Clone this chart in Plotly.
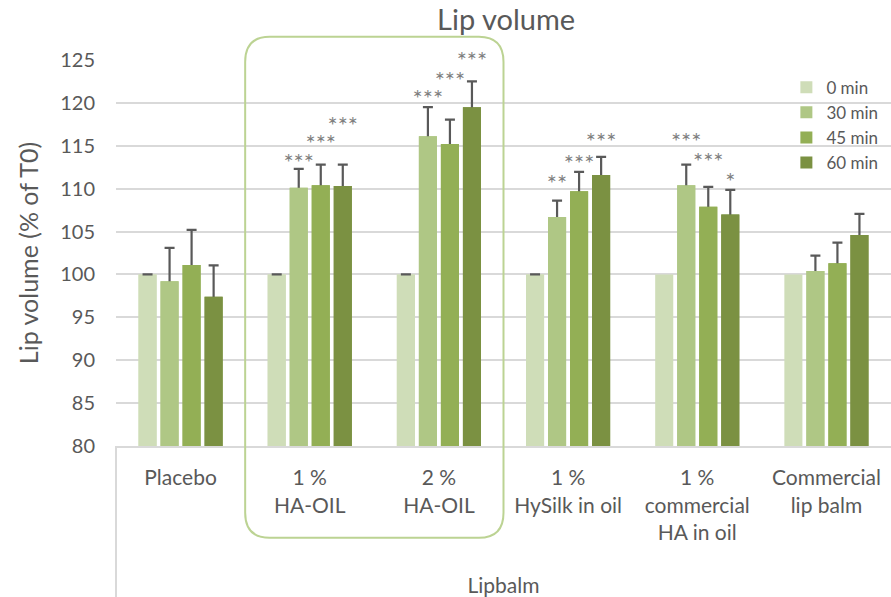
import plotly.graph_objects as go

FONT = "Lato, 'Open Sans', sans-serif"
TXT = "#595959"
GRID = "#D9D9D9"

categories = ["Placebo", "1 %<br>HA-OIL", "2 %<br>HA-OIL", "1 %<br>HySilk in oil",
              "1 %<br>commercial<br>HA in oil", "Commercial<br>lip balm"]
series = ["0 min", "30 min", "45 min", "60 min"]
colors = ["#CFDDB8", "#AFC785", "#93AF55", "#7B9142"]

v0 = [100, 100, 100, 100, 100, 100]
v30 = [99.2, 110.1, 116.1, 106.7, 110.4, 100.4]
v45 = [101.1, 110.4, 115.2, 109.7, 107.9, 101.3]
v60 = [97.4, 110.3, 119.5, 111.6, 107.0, 104.6]

# upper error (SD) of each bar
e30 = [3.9, 2.2, 3.4, 1.9, 2.4, 1.8]
e45 = [4.1, 2.4, 2.85, 2.25, 2.3, 2.4]
e60 = [3.65, 2.5, 3.0, 2.1, 2.85, 2.45]
e0_cats = categories[:4]      # 0 min bars that show a zero-length cap

# significance marks and the height they sit at
s30 = ["", "***", "***", "**", "***", ""]
s45 = ["", "***", "***", "***", "***", ""]
s60 = ["", "***", "***", "***", "*", ""]
h30 = [None, 112.8, 120.2, 110.3, 115.2, None]
h45 = [None, 115.0, 122.3, 112.65, 112.9, None]
h60 = [None, 117.1, 124.7, 115.2, 110.5, None]

values = [v0, v30, v45, v60]
errors = [None, e30, e45, e60]
stars = [[""] * 6, s30, s45, s60]
heights = [v0, h30, h45, h60]

ERR = dict(type="data", symmetric=True, color=TXT, thickness=2.2, width=5)

fig = go.Figure()
for i, name in enumerate(series):
    grp = str(i)
    if errors[i] is not None:
        # bar carrying the error bar, the legend bar covers its lower half
        fig.add_trace(go.Bar(
            x=categories, y=values[i], offsetgroup=grp, showlegend=False,
            marker=dict(color=colors[i], line=dict(width=0)),
            error_y=dict(array=errors[i], **ERR), hoverinfo="skip",
        ))
    fig.add_trace(go.Bar(
        x=categories, y=values[i], name=name, offsetgroup=grp,
        marker=dict(color=colors[i], line=dict(width=0)),
    ))
    if errors[i] is None:
        fig.add_trace(go.Bar(
            x=e0_cats, y=values[i][:4], offsetgroup=grp, showlegend=False,
            marker=dict(color=colors[i], line=dict(width=0)),
            error_y=dict(array=[0] * 4, **ERR), hoverinfo="skip",
        ))

for i in range(4):
    fig.add_trace(go.Scatter(
        x=categories, y=heights[i], text=stars[i], mode="text",
        offsetgroup=str(i), orientation="v", showlegend=False,
        textposition="middle center", cliponaxis=False,
        textfont=dict(family=FONT, size=24, color="#7F7F7F"),
        hoverinfo="skip",
    ))

fig.update_layout(
    width=891, height=597,
    margin=dict(l=116, r=0, t=60, b=151),
    plot_bgcolor="white", paper_bgcolor="white",
    font=dict(family=FONT, size=20, color=TXT),
    barmode="group", bargap=0.318, bargroupgap=0.18,
    scattermode="group", scattergap=0.318,
    title=dict(text="Lip volume", x=0.568, xanchor="center", y=0.966, yanchor="middle",
               font=dict(family=FONT, size=29, color=TXT)),
    legend=dict(x=0.865, y=0.975, xanchor="left", yanchor="top", bgcolor="rgba(0,0,0,0)",
                font=dict(size=17, color=TXT), tracegroupgap=0, itemwidth=30),
    xaxis=dict(showgrid=False, showline=True, linecolor=GRID, linewidth=2,
               automargin=False, ticks="", ticklabelstandoff=12,
               tickfont=dict(size=21, color=TXT),
               title=dict(text="Lipbalm", standoff=37, font=dict(size=21, color=TXT)),
               zeroline=False),
    yaxis=dict(range=[80, 125], dtick=5, showgrid=True, gridcolor=GRID, gridwidth=2,
               showline=False, zeroline=False, ticks="", ticklabelstandoff=20,
               automargin=False, tickfont=dict(size=20, color=TXT),
               title=dict(text="Lip volume (% of T0)", standoff=14,
                          font=dict(size=25, color=TXT))),
    shapes=[
        dict(type="line", xref="x domain", yref="paper", x0=0, x1=0, y0=0, y1=-0.4,
             line=dict(color=GRID, width=2)),
        # rounded box around the two HA-OIL groups
        dict(type="path", xref="x", yref="paper", layer="above",
             path="M 0.69 1.06 L 2.31 1.06 Q 2.5 1.06 2.5 0.995 L 2.5 -0.173 "
                  "Q 2.5 -0.238 2.31 -0.238 L 0.69 -0.238 Q 0.5 -0.238 0.5 -0.173 "
                  "L 0.5 0.995 Q 0.5 1.06 0.69 1.06 Z",
             line=dict(color="#BCD393", width=2)),
    ],
)

# page body margin would shift the chart off its 891x597 frame
fig.write_html("out.html", config={"displayModeBar": False},
               post_script="document.body.style.margin='0';")
